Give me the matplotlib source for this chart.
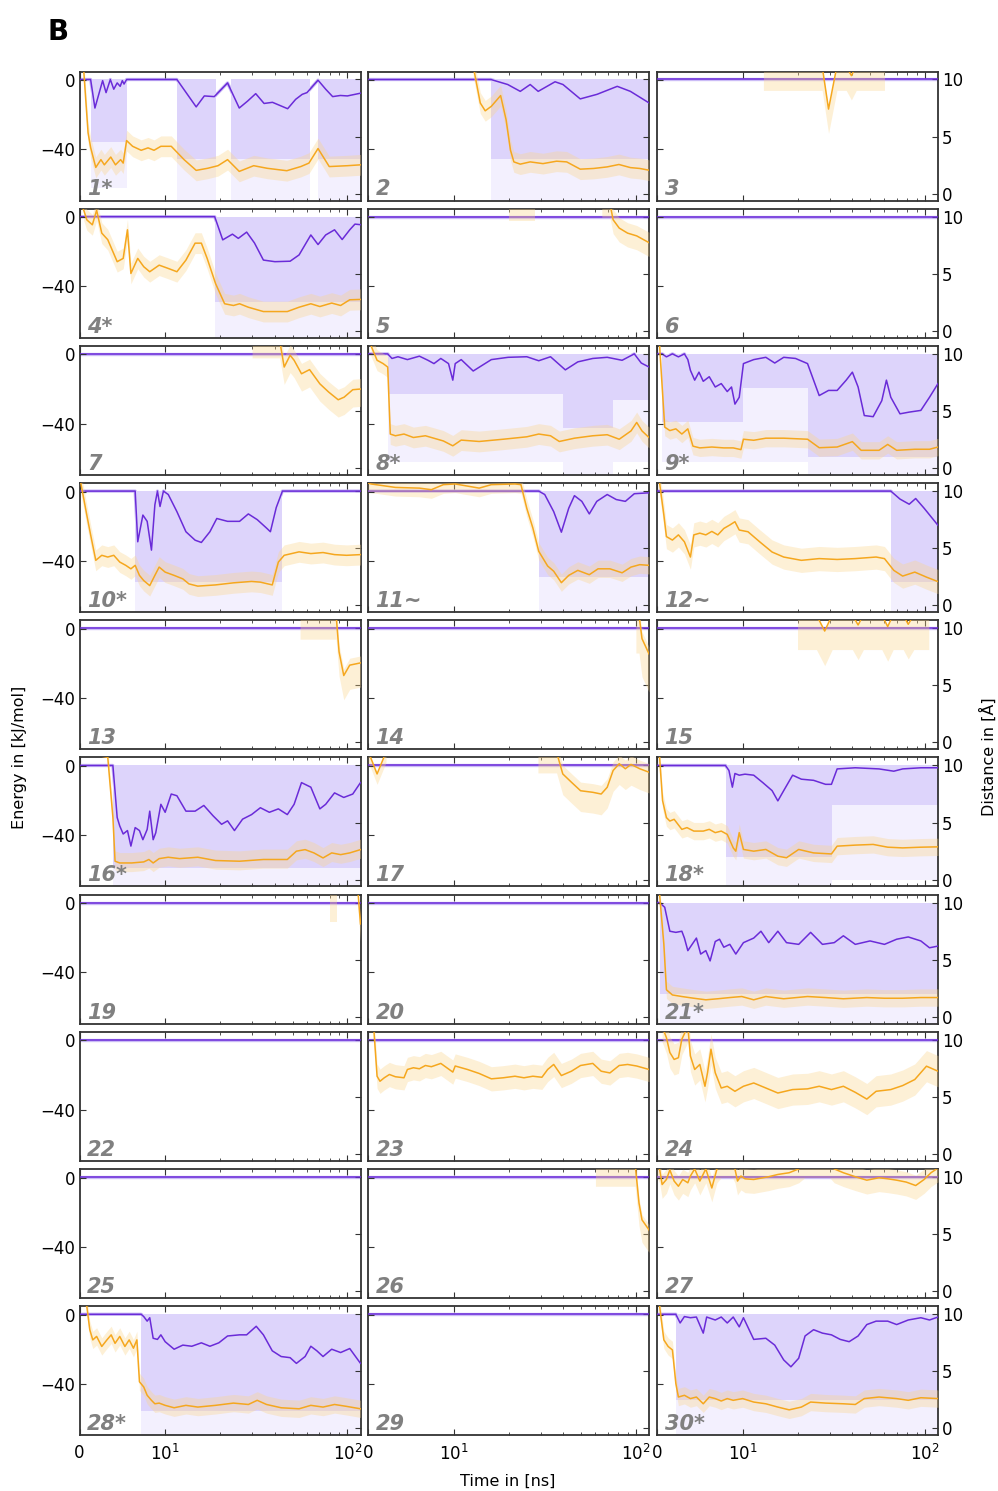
# Kontakt-Energie (orange, links) und Abstand (lila, rechts) fuer 30 Simulationen
# Werte sind aus der Abbildung abgelesen (geglaettete Kurven + Band fuer Rohdaten)
import numpy as np
import matplotlib.pyplot as plt
from matplotlib.ticker import FixedLocator, FixedFormatter, NullFormatter

T_END = 118

labels = ["1*", "2", "3", "4*", "5", "6", "7", "8*", "9*", "10*",
          "11~", "12~", "13", "14", "15", "16*", "17", "18*", "19", "20",
          "21*", "22", "23", "24", "25", "26", "27", "28*", "29", "30*"]

# Energie (t in ns, E in kJ/mol); 8 = oberhalb des Achsenbereichs
e01 = [(0, 8), (0.5, 5), (1.0, -30.5), (1.3, -39), (1.9, -50.5), (2.5, -46), (2.9, -49), (3.65, -44.5),
       (4.2, -49), (4.8, -46), (5.1, -48), (5.5, -35), (6.2, -38.3), (7.2, -40.6), (8.0, -39.2), (8.7, -40.6),
       (9.5, -38.3), (10.8, -38.3), (12.7, -46), (14.8, -52.2), (17.1, -51), (19.5, -49.5), (22, -46),
       (25.5, -52.8), (30.6, -49.5), (36.3, -51), (46.5, -52.4), (55.5, -50), (61.5, -48), (69, -39.6),
       (79.5, -50), (100, -49.5), (118, -49)]
e02 = [(0, 8), (12.8, 8), (14.0, -13.3), (14.9, -17.8), (16.1, -15.2), (18.1, -9), (19.4, -23), (20.5, -40.5),
       (21.4, -47.3), (23.2, -48.6), (26.3, -47.3), (30.9, -48.3), (36.7, -46.9), (41.7, -47.3), (49.5, -51.5),
       (58.6, -51.1), (69.5, -50.2), (80.7, -48.8), (93.3, -50.6), (105, -51.1), (118, -52.1)]
e03 = [(0, 8), (13, 8), (27.3, 8), (29.6, -16.8), (32.9, 8), (37, 8), (39.5, 2.5), (42, 8), (60, 8), (118, 8)]
e04 = [(0, 8), (0.5, 4), (0.85, -1.5), (1.5, -4.4), (2.0, 4), (2.6, -9.2), (3.3, -13), (4.4, -25.7), (5.1, -23.8),
       (5.6, -7.3), (6.0, -32.5), (6.8, -23.8), (7.5, -28.6), (8.2, -31.5), (9.3, -27.7), (10.4, -29.6),
       (11.6, -31.5), (13, -24.8), (14.6, -15), (15.8, -15), (17, -23.8), (18.9, -38.3), (21.2, -50), (23.7, -51),
       (25.6, -50), (28.6, -52), (34.6, -54.5), (46.8, -54.5), (54.3, -52), (63, -50), (70.6, -51.6), (82, -49.6),
       (91.8, -51), (103, -47.7), (118, -47.5)]
e05 = [(0, 8), (20, 8), (28, 8), (65, 8), (72, 8), (75, -1.5), (81, -6.3), (90, -9.2), (101, -10.8), (118, -14.7)]
e06 = [(0, 8), (118, 8)]
e07 = [(0, 8), (30, 8), (42.5, 8), (45, -7.3), (48.5, -0.5), (51, -3.4), (56, -11.2), (62, -8.8), (70.6, -17),
       (79, -21.8), (89, -26.2), (96, -24.7), (107, -20.4), (118, -20)]
e08 = [(0, 8), (0.35, 5), (1.06, -3.4), (1.76, -5.3), (2.3, -7.3), (2.6, -46), (3.2, -47), (4.2, -46), (5.3, -48),
       (6.7, -47), (8.1, -49), (8.8, -50), (9.9, -52.8), (11, -49.5), (13.8, -50.3), (18.7, -49), (25.2, -47.6),
       (29.3, -46), (34, -47), (38, -50.3), (46, -48.4), (58, -47), (69.6, -46.4), (81, -49), (94, -44.2),
       (101, -39.3), (108, -44.2), (118, -48)]
e09 = [(0, 8), (0.3, 5), (0.9, -42), (1.5, -44), (2.2, -43), (2.9, -46), (3.6, -43), (4.2, -53), (5.0, -54),
       (6.4, -53.5), (7.8, -54), (8.9, -54), (9.8, -55), (10.1, -49), (11.5, -49.6), (13.4, -48.4), (16.8, -48.4),
       (22.7, -49), (26.3, -53.9), (33, -53.5), (40, -50.4), (44.7, -55.4), (56, -55.4), (62.5, -52), (70, -55.4),
       (88, -54.8), (106, -54.8), (118, -53.5)]
e10 = [(0, 8), (0.15, 5), (0.85, -13.5), (1.3, -25), (1.9, -39.7), (2.6, -36.8), (3.3, -37.8), (4.0, -36.8),
       (4.7, -40.7), (5.4, -42.6), (6.0, -44.6), (6.5, -42.6), (7.0, -48.4), (7.5, -51.4), (8.2, -54.3),
       (8.8, -48.4), (9.3, -43.6), (10, -46.5), (11.2, -48.4), (12.5, -50.4), (13.5, -53.3), (15.1, -54.6),
       (18.9, -53.9), (23.7, -52.7), (29.8, -51.9), (33.3, -52.3), (38.7, -53.9), (41.8, -40.7), (45, -36.8),
       (54.3, -34.8), (63, -35.8), (73.5, -35.2), (85, -36.4), (99, -36.8), (118, -36.4)]
e11 = [(0, 5), (0.35, 4.4), (3.2, 2.4), (6.0, 2.0), (7.4, 1.1), (8.8, 4), (10.2, 4.4), (13.8, 2.0), (16.1, 4),
       (21.7, 4.4), (23.4, 4), (25.2, -9.7), (27.2, -21), (29.3, -34.5), (32.8, -43), (35.4, -46), (39, -52.6),
       (42.8, -48.4), (48, -45.5), (55.5, -48), (62, -44.6), (72, -44.6), (84, -46.9), (94, -43.6), (105, -42.2),
       (118, -42.6)]
e12 = [(0, 8), (0.3, 5), (0.8, -13.5), (1.1, -26), (1.8, -28), (2.5, -25), (3.2, -29), (3.9, -37.8), (4.3, -25),
       (5.0, -24), (5.7, -25), (6.4, -23), (7.1, -25), (7.8, -21.3), (8.5, -19.3), (9.1, -17.4), (9.6, -22.2),
       (10.7, -23.2), (12.4, -29), (14.5, -34.9), (16.8, -37.8), (21, -39.7), (26.3, -38.7), (33, -39.2),
       (41.5, -38.7), (54, -37.8), (60, -38.7), (67.5, -45.5), (75.5, -48.8), (88, -46.5), (102, -49.4), (118, -52)]
e13 = [(0, 8), (55, 8), (86.7, 8), (90, -13.3), (95.5, -27), (103, -21), (118, -19.7)]
e14 = [(0, 8), (100, 8), (104, 8), (108, -5.7), (118, -14.5)]
e15 = [(0, 8), (20, 8), (25.4, 8), (28.2, -1.3), (31, 8), (40, 8), (43, 2.2), (46, 8), (58, 8), (62.5, 1.3),
       (67, 8), (76, 8), (81, 2.6), (87, 8), (105, 8), (118, 8)]
e16 = [(0, 8), (3.3, 5), (3.9, -29.8), (4.15, -55), (4.7, -56), (6.1, -56), (7.5, -55.4), (8.1, -54), (8.6, -56),
       (9.3, -53.5), (10.4, -52.7), (12, -53.5), (15.1, -52.7), (18.9, -54.6), (25.6, -55), (34.6, -54),
       (46.8, -54), (52.5, -49.2), (58.6, -48.3), (65.5, -50.2), (73.5, -53.1), (82, -50.2), (91.8, -51.2),
       (103, -50.2), (118, -48.3)]
e17 = [(0, 8), (0.3, 5), (1.06, -4.6), (2.1, 8), (29, 8), (36.7, 8), (39.7, -4.6), (44.3, -9.4), (49.7, -14.3),
       (58, -15.2), (64.5, -16.2), (69.6, -12.3), (75, -2.6), (81, 1.3), (87.5, -1.6), (94, 0.9), (105, -1.6),
       (118, -3.6)]
e18 = [(0, 8), (0.3, 5), (0.65, -20), (1.1, -29.8), (1.5, -31.8), (2.0, -30.8), (2.9, -36.6), (3.5, -35.6),
       (4.3, -37.6), (5.4, -37.6), (6.1, -36.6), (6.8, -38.5), (7.5, -37.6), (8.2, -39.5), (8.9, -47.3),
       (9.2, -49.2), (9.6, -38.5), (10.1, -48.2), (11.5, -49.2), (13.4, -48.2), (15.6, -52.1), (17.4, -53),
       (20.3, -48.2), (24.5, -50.2), (30.7, -50.8), (33, -46.3), (41.5, -45.7), (52, -45.3), (62.5, -46.9),
       (75.5, -47.3), (95, -46.9), (118, -46.7)]
e19 = [(0, 8), (80, 8), (88, 8), (114, 8), (118, -12)]
e20 = [(0, 8), (118, 8)]
e21 = [(0, 8), (0.3, 5), (0.8, -23.8), (1.1, -50), (1.8, -53), (2.9, -53.9), (4.3, -54.9), (5.7, -55.8),
       (7.1, -55.2), (8.5, -54.5), (9.9, -53.9), (11.5, -55.8), (13.4, -53.9), (16.8, -55.2), (22.7, -53.9),
       (28.5, -54.5), (35.7, -55.2), (48, -54.5), (60, -54.9), (75.5, -54.9), (95, -54.5), (118, -54.5)]
e22 = [(0, 8), (118, 8)]
e23 = [(0, 8), (0.7, 5), (1.06, -20.7), (1.4, -23.6), (1.9, -21.6), (2.5, -19.7), (3.2, -21), (4.2, -21.6),
       (4.6, -16.8), (5.3, -15.8), (6.0, -16.4), (6.7, -14.5), (7.4, -15.2), (8.5, -13.3), (9.2, -15.8),
       (9.9, -18.3), (10.2, -14.8), (11.9, -16.8), (13.8, -19.1), (16.1, -22.2), (18.7, -21.6), (21.7, -20.7),
       (24.3, -21.6), (27.2, -20.7), (30.5, -21.3), (32.8, -16.8), (35.4, -13.9), (39, -20.3), (44.3, -17.8),
       (49.7, -14.5), (58, -13.3), (64.5, -17.8), (72, -18.8), (81, -14.5), (90, -13.9), (101, -14.8), (118, -16.8)]
e24 = [(0, 8), (0.6, 8), (1.1, 1.6), (1.5, -7), (2.0, -11), (2.5, -10), (2.9, 0.7), (3.6, 8), (3.9, -9),
       (4.4, -16.8), (5.0, -13.9), (5.6, -26.5), (5.9, -18.7), (6.3, -5.1), (6.8, -18.7), (7.5, -27.5),
       (8.2, -26.5), (9.1, -29.4), (10.1, -26.5), (11.5, -24.6), (13.4, -27.5), (15.6, -30.4), (18.8, -28.4),
       (22.7, -28), (26.3, -26.5), (30.7, -28.4), (35.7, -26.5), (41.5, -30), (48, -33.9), (54, -29.4),
       (65, -28.4), (75.5, -26.1), (88, -22.6), (102, -14.9), (118, -17.8)]
e25 = [(0, 8), (118, 8)]
e26 = [(0, 8), (60, 8), (99, 8), (104, -14.7), (108, -24.4), (118, -30.2)]
e27 = [(0, 8), (0.3, 5), (0.6, -4), (1.1, -1.1), (1.5, 4.4), (2.0, -2), (2.5, -5), (3.0, -1.1), (3.6, -3),
       (3.9, 0.9), (4.4, 5), (5.0, -2), (5.7, 5), (6.4, -6), (7.0, 5), (7.5, 8), (8.8, 8), (9.1, 5), (9.4, -2),
       (9.8, 0.9), (10.3, -0.7), (11.5, -1.1), (13.9, 0.5), (15.6, 1.8), (18, 2.8), (20.3, 5), (22, 8), (30, 8),
       (31.8, 5), (35.7, 2.8), (41.5, 0.5), (48, -1.5), (56, -0.1), (62.5, -0.7), (70, -1.5), (79, -2.6),
       (89, -4.6), (99, -1.1), (108, 2.8), (118, 5.5)]
e28 = [(0, 8), (0.85, 5), (1.2, -8.6), (1.55, -14.5), (2.0, -12.5), (2.6, -18.3), (3.2, -14.5), (3.7, -11.6),
       (4.15, -16.5), (4.7, -12.5), (5.3, -18.3), (5.8, -14.5), (6.3, -19.3), (6.7, -14.5), (7.0, -38.7),
       (7.5, -41.7), (7.9, -46.5), (8.4, -49.4), (8.8, -51.4), (9.3, -51), (10, -52.3), (11.2, -53.7), (13, -52.3),
       (15.1, -53.3), (18.9, -52.3), (23.7, -51), (28.6, -51.8), (32, -49.4), (36, -51.8), (43.3, -53.7),
       (54.3, -54.3), (63, -52.3), (73.5, -53.3), (85, -51.8), (99, -52.9), (118, -54.3)]
e29 = [(0, 8), (118, 8)]
e30 = [(0, 8), (0.3, 5), (0.8, -14.5), (1.3, -18.3), (1.8, -20.3), (2.2, -39.7), (2.5, -47.5), (3.2, -46.5),
       (3.9, -48.4), (4.6, -47.5), (5.4, -51.4), (6.1, -47.5), (6.8, -48.4), (7.5, -49.8), (8.2, -48.4),
       (8.9, -49.4), (10, -48.4), (11.5, -50.4), (13.4, -51.4), (15.6, -53.3), (18, -54.9), (21, -53.3),
       (23.6, -50.4), (28.5, -51), (35.7, -51.4), (41.5, -51.8), (46.5, -48.4), (56, -47.5), (70, -48.4),
       (81, -49.4), (95, -47.9), (118, -48.4)]

# Abstand (t in ns, d in Angstrom); 10 = kein Kontakt
d_flat = [(0, 10), (118, 10)]
d01 = [(0, 10), (1.3, 10), (1.8, 7.5), (2.7, 9.9), (3.1, 8.85), (3.6, 10), (4.0, 9.15), (4.4, 9.7), (4.75, 9.4),
       (5.0, 9.9), (5.2, 9.6), (5.5, 10), (11.6, 10), (14.8, 7.6), (16.4, 8.56), (18.6, 8.5), (22, 9.7),
       (25.5, 7.5), (28.3, 8.1), (31.4, 8.76), (34.9, 7.9), (38.8, 8.0), (43, 7.7), (47, 7.44), (52, 8.26),
       (56.5, 8.7), (60, 8.85), (69, 9.94), (76, 9.15), (83, 8.5), (91.5, 8.6), (100, 8.56), (118, 8.8)]
d02 = [(0, 10), (16, 10), (19.8, 9.56), (23.2, 8.96), (26.3, 9.56), (29.1, 8.96), (36, 9.8), (39.8, 9.56),
       (49.5, 8.3), (61.2, 8.7), (79, 9.4), (93.3, 8.96), (118, 7.95)]
d04 = [(0, 10), (18.7, 10), (20.7, 7.97), (23.4, 8.47), (25.2, 8.1), (28, 8.65), (30.9, 7.7), (34.6, 6.2),
       (40, 6.06), (48.5, 6.1), (54.3, 6.65), (63, 8.4), (69, 7.56), (76, 8.4), (85, 8.85), (93.6, 8.0),
       (103, 8.85), (110, 9.35), (118, 9.3)]
d08 = [(0, 10), (2.3, 10), (2.8, 9.6), (3.5, 9.75), (4.6, 9.5), (6.0, 9.8), (7.0, 9.44), (7.7, 9.15), (8.5, 9.6),
       (9.4, 9.15), (9.9, 7.7), (10.2, 9.15), (11, 9.5), (12.8, 8.5), (14.35, 9.0), (16.1, 9.5), (19.9, 9.7),
       (25.2, 9.75), (29.3, 9.4), (34, 9.75), (41, 8.6), (48, 9.3), (58, 9.6), (69.6, 9.7), (84, 9.44), (98, 10),
       (107, 9.2), (118, 8.85)]
d09 = [(0, 10), (0.6, 10), (1.1, 9.74), (1.8, 10), (2.5, 9.74), (3.2, 10), (3.6, 9.5), (3.9, 8.56), (4.4, 7.7),
       (4.9, 8.4), (5.4, 7.6), (6.1, 8.0), (6.8, 7.1), (7.5, 7.4), (8.2, 6.7), (8.7, 7.1), (9.1, 5.6), (9.6, 6.2),
       (10.1, 9.15), (11.5, 9.5), (13.4, 9.7), (15, 9.2), (16.8, 9.7), (19.5, 9.6), (22.7, 9.15), (24.5, 7.7),
       (26.3, 6.35), (29.6, 6.8), (33, 6.8), (37, 7.7), (40, 8.4), (43, 7.1), (46.5, 4.6), (52, 4.5), (58, 5.9),
       (61.5, 7.7), (65, 6.2), (73, 4.75), (82, 4.9), (95, 5.05), (106, 6.2), (118, 7.4)]
d10 = [(0, 10), (6.5, 10), (6.8, 5.56), (7.4, 7.9), (7.9, 7.35), (8.4, 4.83), (8.8, 8.8), (9.1, 10), (9.4, 8.65),
       (9.8, 10), (10.4, 9.7), (11.6, 8.2), (13, 6.44), (14.6, 5.7), (15.8, 5.5), (17.6, 6.44), (19.2, 7.6),
       (22, 7.35), (25.6, 7.35), (28.6, 8.0), (32, 7.5), (36, 6.76), (37.8, 6.44), (40.7, 8.56), (44, 10), (118, 10)]
d11 = [(0, 10), (29.3, 10), (31.6, 9.7), (35.4, 8.2), (39, 6.4), (42.8, 8.5), (46, 9.6), (50.5, 9.1), (55.5, 8.0),
       (61, 9.1), (69.6, 9.7), (78, 9.26), (87.5, 9.1), (98, 9.77), (118, 9.85)]
d12 = [(0, 10), (65, 10), (73, 9.3), (82, 8.85), (89, 9.35), (99, 8.5), (110, 7.6), (118, 7.0)]
d16 = [(0, 10), (3.9, 10), (4.4, 5.44), (4.7, 4.7), (5.1, 4.0), (5.6, 4.3), (6.0, 2.94), (6.5, 4.56), (7.0, 4.3),
       (7.4, 3.5), (7.9, 4.4), (8.2, 6.0), (8.6, 3.5), (8.9, 4.1), (9.5, 6.6), (10, 5.9), (10.8, 7.5), (11.6, 7.35),
       (13, 6.0), (14.6, 6.0), (16.3, 6.5), (18.3, 5.6), (20.4, 4.85), (22, 5.15), (24, 4.3), (26.6, 5.3),
       (29.8, 5.7), (33.3, 6.3), (37.3, 5.9), (41.8, 6.2), (46.8, 5.7), (51, 6.6), (56, 8.5), (63, 8.1),
       (70.6, 6.2), (76, 6.6), (85, 7.6), (95.5, 7.2), (107, 7.5), (118, 8.5)]
d18 = [(0, 10), (8.0, 10), (8.4, 9.56), (8.8, 8.1), (9.1, 9.3), (9.6, 9.15), (10.3, 9.24), (11.5, 9.15),
       (12.9, 8.5), (14.5, 7.8), (15.6, 6.9), (16.8, 7.8), (18.8, 9.15), (21, 8.8), (24.5, 8.7), (28.5, 8.35),
       (30.7, 8.35), (33, 9.7), (41.5, 9.8), (56, 9.7), (67.5, 9.5), (75.5, 9.7), (95, 9.8), (118, 9.8)]
d21 = [(0, 10), (0.3, 10), (0.9, 9.6), (1.5, 7.5), (2.2, 7.4), (2.9, 7.5), (3.2, 6.9), (3.6, 5.8), (4.1, 6.35),
       (4.6, 6.9), (5.1, 5.5), (5.7, 5.8), (6.2, 4.9), (6.8, 6.6), (7.3, 6.8), (7.8, 6.1), (8.5, 6.35), (9.2, 5.5),
       (10.1, 6.5), (11.5, 6.9), (12.6, 7.5), (13.9, 6.5), (15.6, 7.5), (17.4, 6.5), (20.3, 6.35), (23.6, 7.4),
       (27.4, 6.35), (31.8, 6.5), (35.7, 7.1), (41.5, 6.35), (50, 6.65), (60, 6.35), (70, 6.8), (81, 7.0),
       (95, 6.65), (106, 6.05), (118, 6.2)]
d28 = [(0, 10), (7.2, 10), (7.5, 9.8), (7.9, 9.4), (8.2, 9.7), (8.6, 7.9), (9.1, 7.8), (9.5, 8.2), (10, 7.6),
       (11.2, 6.94), (12.5, 7.3), (14, 7.2), (15.8, 7.5), (17.6, 7.2), (19.7, 7.5), (22, 8.1), (25.6, 8.2),
       (28, 8.2), (31.6, 8.95), (34.6, 8.2), (38.7, 6.8), (43.3, 6.3), (48.5, 6.2), (52.5, 5.7), (58.6, 6.3),
       (63, 7.2), (68, 6.8), (73.5, 6.3), (82, 6.94), (91.8, 6.65), (103, 7.0), (118, 5.7)]
d30 = [(0, 10), (2.2, 10), (2.7, 9.24), (3.2, 9.8), (3.9, 9.7), (4.6, 9.76), (5.4, 8.35), (5.8, 9.76), (6.8, 9.5),
       (7.5, 9.76), (8.2, 9.24), (8.9, 9.76), (9.6, 8.9), (10.1, 9.7), (11.5, 7.8), (13.4, 7.9), (15, 7.3),
       (16.8, 6.0), (18.4, 5.4), (20.3, 6.15), (22, 8.1), (24.5, 8.65), (27.4, 8.35), (30.7, 8.2), (34.3, 7.8),
       (38.4, 7.6), (43, 8.1), (48, 9.1), (54, 9.4), (62.5, 9.4), (70, 9.1), (81, 9.5), (95, 9.7), (106, 9.5),
       (118, 9.76)]

# Rohdaten-Band Energie: (t0, t1, nach unten, nach oben) um die Kurve
eb01 = [(0.5, 118, 6, 6)]
eb02 = [(12.8, 118, 6, 6)]
eb03 = [(13, 60, 14, 0)]
eb04 = [(0.5, 118, 6, 6)]
eb05 = [(20, 28, 10, 0), (65, 118, 8, 6)]
eb07 = [(30, 118, 10, 6)]
eb08 = [(0.35, 118, 6, 6)]
eb09 = [(0.3, 118, 5, 5)]
eb10 = [(0.15, 118, 6, 6)]
eb11 = [(0, 118, 5, 5)]
eb12 = [(0.3, 118, 7, 7)]
eb13 = [(55, 118, 14, 4)]
eb14 = [(100, 118, 22, 4)]
eb15 = [(20, 105, 20, 0)]
eb16 = [(3.3, 118, 5, 6)]
eb17 = [(0, 2.1, 6, 0), (29, 118, 12, 5)]
eb18 = [(0.3, 118, 5, 5)]
eb19 = [(80, 88, 19, 0), (114, 118, 10, 0)]
eb21 = [(0.3, 118, 5, 5)]
eb23 = [(0.7, 118, 7, 7)]
eb24 = [(0.6, 118, 9, 9)]
eb26 = [(60, 118, 13, 3)]
eb27 = [(0, 118, 8, 6)]
eb28 = [(0.85, 118, 5, 5)]
eb30 = [(0.3, 118, 5, 5)]

# Rohdaten-Band Abstand: (t0, t1, dichte Untergrenze, seltene Untergrenze)
db01 = [(1.3, 5.6, 4.5, 0.5), (11.6, 19, 3.0, -0.6), (23, 62, 3.0, -0.6), (69, 118, 3.0, -0.6)]
db02 = [(16, 118, 3.0, -0.6)]
db04 = [(18.7, 118, 2.5, -0.6)]
db08 = [(2.3, 40, 6.5, 0.5), (40, 75, 3.5, -0.6), (75, 118, 6.0, 0.5)]
db09 = [(0.6, 10.1, 4.0, 0.5), (10.1, 22.7, 7.0, 0.5), (22.7, 118, 1.0, -0.6)]
db10 = [(6.5, 44, 2.0, -0.6)]
db11 = [(29.3, 118, 2.5, -0.6)]
db12 = [(65, 118, 2.0, -0.6)]
db16 = [(3.9, 118, 1.0, -0.6)]
db18 = [(8.0, 31, 2.0, -0.6), (31, 118, 6.5, 0.0)]
db21 = [(0.3, 118, 2.0, -0.6)]
db28 = [(7.2, 118, 1.5, -0.6)]
db30 = [(2.2, 118, 2.5, -0.6)]

energies = [e01, e02, e03, e04, e05, e06, e07, e08, e09, e10, e11, e12, e13, e14, e15,
            e16, e17, e18, e19, e20, e21, e22, e23, e24, e25, e26, e27, e28, e29, e30]
distances = [d01, d02, d_flat, d04, d_flat, d_flat, d_flat, d08, d09, d10, d11, d12, d_flat, d_flat, d_flat,
             d16, d_flat, d18, d_flat, d_flat, d21, d_flat, d_flat, d_flat, d_flat, d_flat, d_flat, d28, d_flat, d30]
e_bands = [eb01, eb02, eb03, eb04, eb05, [], eb07, eb08, eb09, eb10, eb11, eb12, eb13, eb14, eb15,
           eb16, eb17, eb18, eb19, [], eb21, [], eb23, eb24, [], eb26, eb27, eb28, [], eb30]
d_bands = [db01, db02, [], db04, [], [], [], db08, db09, db10, db11, db12, [], [], [],
           db16, [], db18, [], [], db21, [], [], [], [], [], [], db28, [], db30]

# Farben
PURPLE = '#6a2bd8'
PURPLE_BAND = '#ddd4fb'
PURPLE_SPARSE = '#f3f0fe'
PURPLE_RAW = '#cbbcf6'
ORANGE = '#f5a71e'
ORANGE_BAND = '#fbd48a'
FRAME = '#333333'

# Layout in Pixeln (Bild 998 x 1491)
W, H = 998, 1491
COL_X = [79.5, 368, 657]
AX_W = 281
ROW_TOP = 71.5
ROW_STEP = 137.2
AX_H = 129

plt.rcParams['font.family'] = ['DejaVu Sans']
fig = plt.figure(figsize=(W / 100, H / 100), dpi=100)

for i in range(30):
    r, c = divmod(i, 3)
    rect = [COL_X[c] / W, 1 - (ROW_TOP + r * ROW_STEP + AX_H) / H, AX_W / W, AX_H / H]
    ax = fig.add_axes(rect)       # Abstand (rechte Achse)
    ax2 = ax.twinx()              # Energie (linke Achse)
    ax.yaxis.tick_right()
    ax2.yaxis.tick_left()

    ax.set_xscale('symlog', linthresh=10, linscale=0.423)
    ax.set_xlim(0, T_END)
    ax.set_ylim(-0.6, 10.7)
    ax2.set_ylim(-69.6, 4.9)

    # Abstand: Rohdaten-Band + geglaettete Kurve
    td, dd = np.array(distances[i]).T
    ax.plot(td, dd, color=PURPLE_RAW, lw=2.4, zorder=1, solid_capstyle='butt')
    for t0, t1, dense_low, sparse_low in d_bands[i]:
        ax.fill_between([t0, t1], sparse_low, 10, color=PURPLE_SPARSE, lw=0, zorder=1.2)
        ax.fill_between([t0, t1], dense_low, 10, color=PURPLE_BAND, lw=0, zorder=1.4)
    ax.plot(td, dd, color=PURPLE, lw=1.1, zorder=3)

    # Energie: Rohdaten-Band + geglaettete Kurve
    te, ee = np.array(energies[i]).T
    for t0, t1, s_down, s_up in e_bands[i]:
        mask = (te >= t0) & (te <= t1)
        ax2.fill_between(te, ee - s_down, ee + s_up, where=mask, color=ORANGE_BAND,
                         alpha=0.35, lw=0, zorder=1)
    ax2.plot(te, ee, color=ORANGE, lw=1.1, zorder=3)

    ax2.text(0.027, 0.04, labels[i], transform=ax2.transAxes, fontsize=15,
             fontweight='bold', fontstyle='italic', color='#808080',
             ha='left', va='baseline', zorder=5)

    # Achsen und Ticks
    ax.xaxis.set_major_locator(FixedLocator([0, 10, 100]))
    ax.xaxis.set_major_formatter(FixedFormatter(['0', '$10^1$', '$10^2$']))
    ax.xaxis.set_minor_locator(FixedLocator([20, 30, 40, 50, 60, 70, 80, 90]))
    ax.xaxis.set_minor_formatter(NullFormatter())
    ax.set_yticks([0, 5, 10])
    ax2.set_yticks([0, -40])

    ax.tick_params(axis='x', which='both', direction='in', top=True, bottom=True,
                   labelbottom=(r == 9), labelsize=12, color=FRAME, pad=6)
    ax.tick_params(axis='x', which='major', length=4, width=0.8)
    ax.tick_params(axis='x', which='minor', length=2.5, width=0.6)
    ax.tick_params(axis='y', direction='in', length=4, width=0.8, color=FRAME,
                   labelright=(c == 2), labelleft=False, labelsize=12, pad=3)
    ax2.tick_params(axis='y', direction='in', length=4, width=0.8, color=FRAME,
                    labelleft=(c == 0), labelright=False, labelsize=12, pad=3)

    for sp in ax.spines.values():
        sp.set_color(FRAME)
        sp.set_linewidth(1.3)
    for sp in ax2.spines.values():
        sp.set_visible(False)

fig.text(48 / W, 1 - 40 / H, 'B', fontsize=20, fontweight='bold', ha='left', va='baseline')
fig.text(20 / W, 1 - 757 / H, 'Energy in [kJ/mol]', rotation=90, fontsize=11.5,
         ha='center', va='center')
fig.text(988 / W, 1 - 757 / H, 'Distance in [Å]', rotation=90, fontsize=11.5,
         ha='center', va='center')
fig.text(508 / W, 1 - 1481 / H, 'Time in [ns]', fontsize=11.5, ha='center', va='center')

fig.savefig('out.png', dpi=100)
